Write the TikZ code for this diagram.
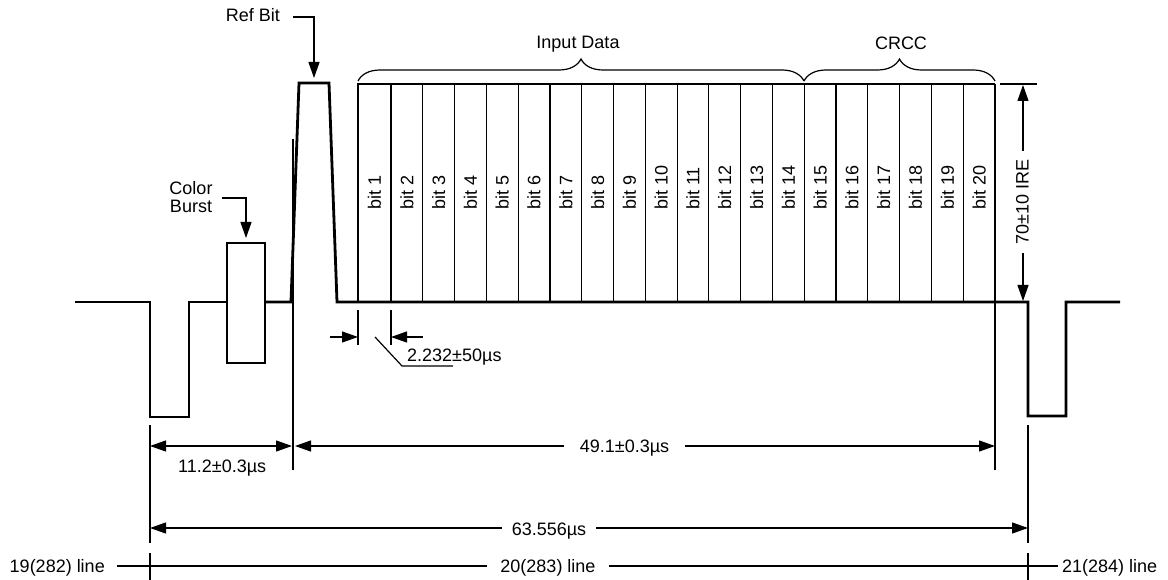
\documentclass[tikz,border=0pt]{standalone}
\usepackage{fontspec}
\setmainfont{Liberation Sans}
\usetikzlibrary{arrows.meta,decorations.pathreplacing}
\begin{document}
\begin{tikzpicture}[x=1pt,y=-1pt,
  thickln/.style={line width=2.8pt, line join=miter},
  thinln/.style={line width=1.2pt},
  tipend/.style={-{Triangle[length=16pt,width=11pt]}},
  tipboth/.style={{Triangle[length=16pt,width=11pt]}-{Triangle[length=16pt,width=11pt]}},
  lbl/.style={font=\fontsize{18}{18}\selectfont, inner sep=0pt},
  gaplbl/.style={lbl, fill=white, inner ysep=2pt},
  bracest/.style={thinln, decorate, decoration={brace, amplitude=22pt}}]
\useasboundingbox (0,0) rectangle (1168,580);

% waveform
\draw[thickln] (75,302) -- (150,302) -- (150,417) -- (189,417) -- (189,302) -- (227,302);
\draw[thickln] (227,243) rectangle (265,363);
\draw[thickln] (265,302) -- (291,302) -- (299,83) -- (329,83) -- (337,302) -- (1028,302)
  -- (1028,416) -- (1066,416) -- (1066,302) -- (1120,302);

% data bits
\draw[thinln] (358,302) -- (358,84) -- (995,84);
\foreach \k in {1,...,20} {
  \pgfmathsetmacro\r{391+(\k-1)*31.789}
  \pgfmathsetmacro\l{ifthenelse(\k==1,358,391+(\k-2)*31.789)}
  \draw[thinln] (\r,84) -- (\r,302);
  \node[lbl, rotate=90, anchor=west] (b\k) at ({(\l+\r)/2},210) {bit \k};
}

% braces
\coordinate (brA) at (358,81);
\coordinate (brB) at (804,81);
\coordinate (brC) at (995,81);
\draw[bracest] (brA) -- (brB);
\draw[bracest] (brB) -- (brC);
\node[lbl, anchor=base] (indata) at (578,49) {Input Data};
\node[lbl, anchor=base] (crcc) at (901,50) {CRCC};

% Ref Bit
\node[lbl, anchor=base] (refbit) at (253,22) {Ref Bit};
\coordinate (rbA) at (293,17);
\coordinate (rbT) at (314,78);
\draw[thinln, tipend] (rbA) -| (rbT);

% Color Burst
\node[lbl, align=center] (cburst) at (191,197) {Color\\Burst};
\coordinate (cbA) at (222,198);
\coordinate (cbT) at (246,238);
\draw[thinln, tipend] (cbA) -| (cbT);

% thin reference lines
\draw[thinln] (293,139) -- (293,470);
\draw[thinln] (995,302) -- (995,470);
\draw[thinln] (150,425) -- (150,543);
\draw[thinln] (150,553) -- (150,580);
\draw[thinln] (1028,425) -- (1028,543);
\draw[thinln] (1028,553) -- (1028,580);

% 2.232 dimension
\draw[thinln] (358,310) -- (358,345);
\draw[thinln] (391,310) -- (391,345);
\coordinate (dA0) at (330,337);
\coordinate (dA1) at (358,337);
\coordinate (dB0) at (423,337);
\coordinate (dB1) at (391,337);
\draw[thinln, tipend] (dA0) -- (dA1);
\draw[thinln, tipend] (dB0) -- (dB1);
\draw[thinln] (375,337) -- (402,366) -- (453,366);
\node[lbl, anchor=base west] (bitw) at (407,361) {2.232±50µs};

% 11.2 dimension
\coordinate (d11a) at (150,446);
\coordinate (d11b) at (292,446);
\draw[thinln, tipboth] (d11a) -- (d11b);
\node[lbl, anchor=base west] (t11) at (178,472) {11.2±0.3µs};

% 49.1 dimension
\coordinate (d49a) at (295,446);
\coordinate (d49b) at (995,446);
\draw[thinln, tipboth] (d49a) -- (d49b);
\node[gaplbl, inner xsep=16pt, anchor=base] (t49) at (624.5,452) {49.1±0.3µs};

% 63.556 dimension
\coordinate (d63a) at (150,528);
\coordinate (d63b) at (1028,528);
\draw[thinln, tipboth] (d63a) -- (d63b);
\node[gaplbl, inner xsep=10pt, anchor=base] (t63) at (549,535) {63.556µs};

% line axis
\coordinate (lnA) at (117,566);
\coordinate (lnB) at (1058,566);
\draw[thickln] (lnA) -- (lnB);
\node[gaplbl, inner xsep=13pt, anchor=base] (l20) at (548,572) {20(283) line};
\node[lbl, anchor=base east] (l19) at (105,572) {19(282) line};
\node[lbl, anchor=base west] (l21) at (1062,572) {21(284) line};

% 70 IRE dimension
\draw[thinln] (1000,84) -- (1037,84);
\coordinate (ireA) at (1023,85);
\coordinate (ireB) at (1023,301);
\draw[thinln, tipboth] (ireA) -- (ireB);
\node[gaplbl, inner xsep=9pt, rotate=90] (ire) at (1022.5,202) {70±10 IRE};
\end{tikzpicture}
\end{document}
